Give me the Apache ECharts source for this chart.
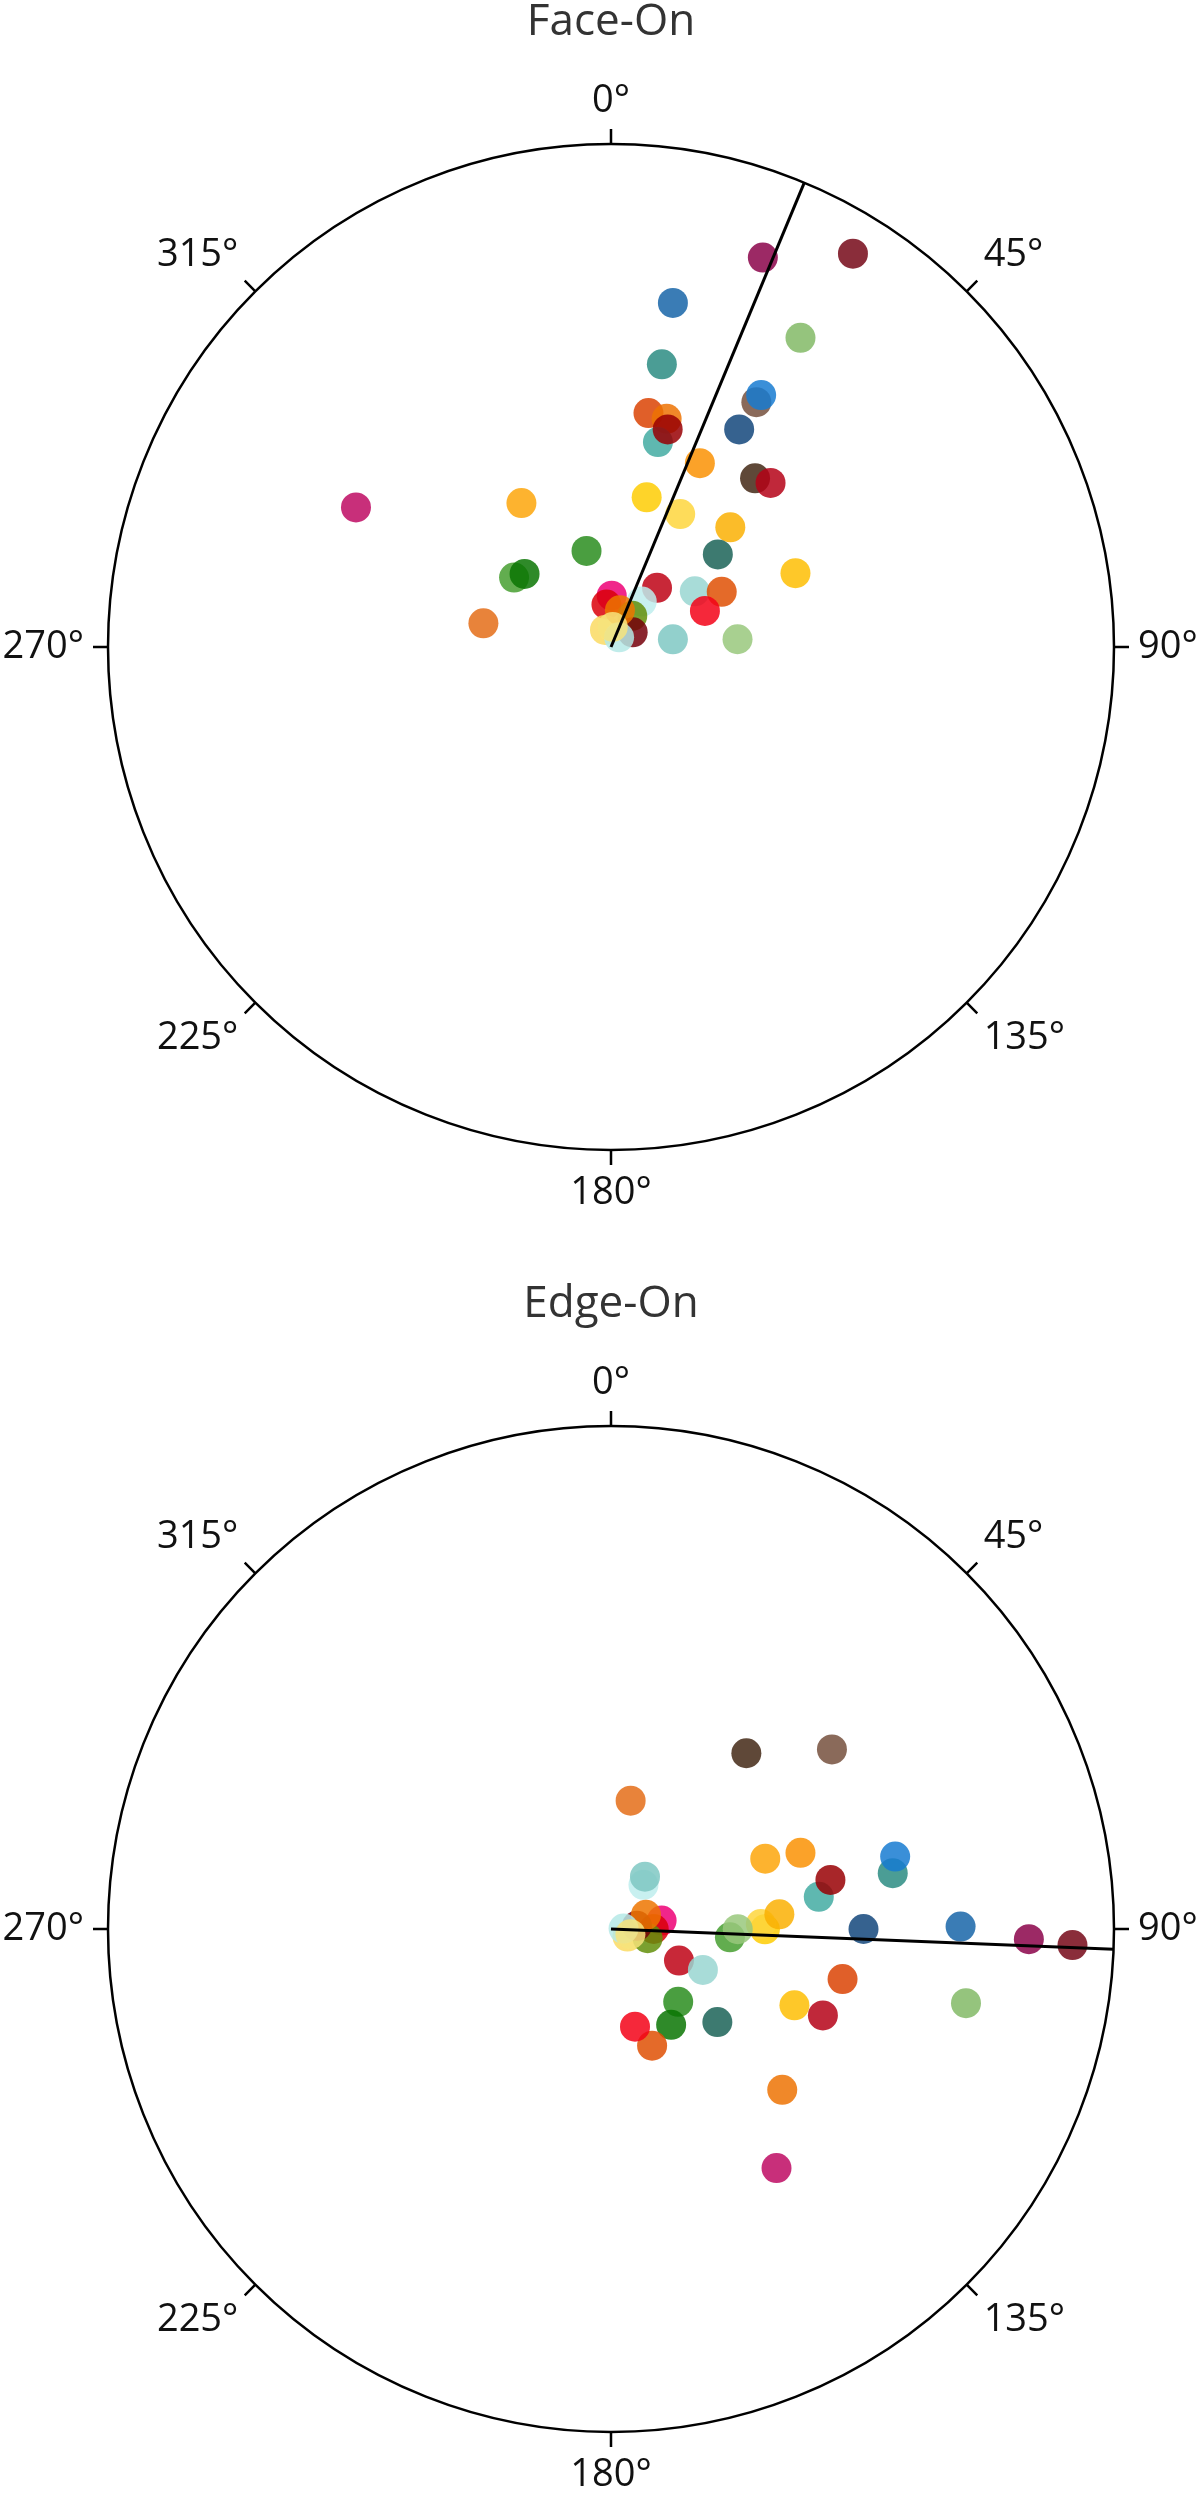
<!DOCTYPE html>
<html>
<head>
<meta charset="utf-8">
<script src="https://cdn.jsdelivr.net/npm/echarts@6/dist/echarts.min.js"></script>
<style>
  html, body { margin: 0; padding: 0; background: #fff; }
  #chart { width: 1200px; height: 2498px; }
</style>
</head>
<body>
<div id="chart"></div>
<script>
// ---- data ----
const titles = ['Face-On', 'Edge-On'];
const angleTicks = [0, 45, 90, 135, 180, 225, 270, 315];
// one entry per object: observed marker colour, radial distance (outer circle = 1),
// angle in the face-on view and angle in the edge-on view (degrees, clockwise from top)
const colors = ['#c8307a','#fdb32f','#4a9e40','#63ad4f','#2f8a2a','#e8833a','#f0268a','#e0102e','#fbe07a','#9c2a65',
                '#8a2d3b','#3a7cb5','#96c47d','#4b9d95','#8a6a5a','#3a8fd8','#e05f2a','#f0882a','#5fb8b0','#a8182a',
                '#36628f','#fba22a','#5f4838','#c0283a','#fed42a','#fedc5a','#fbbc2a','#3d7a70','#fec82a','#c82838',
                '#a8dcd8','#e46a2a','#f5283a','#c8f0f0','#7aa030','#8a1a30','#92d0cc','#a8d090','#f08a20','#c0ecea',
                '#f8e890'];
const radius = [0.578,0.337,0.197,0.237,0.225,0.258,0.102,0.085,0.036,0.831,
                0.918,0.695,0.721,0.571,0.566,0.583,0.471,0.467,0.418,0.447,
                0.502,0.406,0.441,0.455,0.306,0.298,0.336,0.281,0.395,0.149,
                0.200,0.246,0.200,0.109,0.075,0.052,0.124,0.252,0.075,0.025,
                0.040];
const faceAngle = [298.7,328.1,345.7,305.6,310.2,280.5,0.8,353.9,340.6,21.3,
                   31.6,10.2,31.5,10.2,30.7,30.8,9.1,13.7,12.9,14.6,
                   30.5,25.8,40.5,44.2,13.4,27.5,44.9,49.1,68.2,37.9,
                   56.4,63.5,69.0,34.1,34.3,56.0,82.9,86.5,13.7,40.0,
                   5.0];
const edgeAngle = [145.3,65.5,137.3,94.0,147.9,8.7,80.6,90.0,114.8,91.4,
                   92.0,89.6,101.8,78.8,50.9,75.7,102.2,133.2,81.2,77.4,
                   90.0,68.1,37.6,112.2,90.1,88.1,85.0,131.2,112.6,114.9,
                   114.0,160.6,166.2,36.3,104.0,83.0,33.0,90.1,68.0,88.0,
                   105.0];
const faceLineAngle = 22.6;
const edgeLineAngle = 92.3;

// ---- styling helpers ----
const ALPHA = 0.85;
function baseColor(hex) {
  const n = parseInt(hex.slice(1), 16);
  const ch = [(n >> 16) & 255, (n >> 8) & 255, n & 255].map(c =>
    Math.max(0, Math.min(255, Math.round((c - 255 * (1 - ALPHA)) / ALPHA))));
  return 'rgb(' + ch.join(',') + ')';
}

const FONT = "'Open Sans', 'Noto Sans', sans-serif";
const centers = [[611, 647], [611, 1929]];
const R = 503;

function angleAxis(i) {
  return {
    polarIndex: i, type: 'value', min: 0, max: 360, interval: 45,
    startAngle: 90, clockwise: true,
    axisLine: { show: true, lineStyle: { color: '#000', width: 2.5 } },
    axisTick: { show: true, inside: false, length: 15, lineStyle: { color: '#000', width: 2.5 } },
    axisLabel: {
      show: true, margin: 24, fontSize: 38, fontFamily: FONT, color: '#111',
      formatter: v => (angleTicks.indexOf(v) >= 0 ? v + '°' : '')
    },
    splitLine: { show: false }
  };
}
function radiusAxis(i) {
  return {
    polarIndex: i, type: 'value', min: 0, max: 1,
    axisLine: { show: false }, axisTick: { show: false },
    axisLabel: { show: false }, splitLine: { show: false }
  };
}
function points(angles) {
  return radius.map((r, k) => ({
    value: [r, angles[k]],
    itemStyle: { color: baseColor(colors[k]), opacity: ALPHA }
  }));
}

const option = {
  animation: false,
  polar: centers.map(c => ({ center: c, radius: R })),
  angleAxis: [angleAxis(0), angleAxis(1)],
  radiusAxis: [radiusAxis(0), radiusAxis(1)],
  graphic: titles.map((t, i) => ({
    type: 'text', x: centers[i][0], y: centers[i][1] - 625,
    style: { text: t, fontSize: 44, fontFamily: FONT, fill: '#333',
             textAlign: 'center', textVerticalAlign: 'middle' }
  })),
  series: [
    { type: 'scatter', coordinateSystem: 'polar', polarIndex: 0, symbolSize: 30,
      data: points(faceAngle) },
    { type: 'scatter', coordinateSystem: 'polar', polarIndex: 1, symbolSize: 30,
      data: points(edgeAngle) },
    { type: 'line', coordinateSystem: 'polar', polarIndex: 0, symbol: 'none', z: 5,
      lineStyle: { color: '#000', width: 3 },
      data: [[0, faceLineAngle], [1, faceLineAngle]] },
    { type: 'line', coordinateSystem: 'polar', polarIndex: 1, symbol: 'none', z: 5,
      lineStyle: { color: '#000', width: 3 },
      data: [[0, edgeLineAngle], [1, edgeLineAngle]] }
  ]
};

const chart = echarts.init(document.getElementById('chart'), null, { renderer: 'canvas' });
chart.setOption(option);
</script>
</body>
</html>
